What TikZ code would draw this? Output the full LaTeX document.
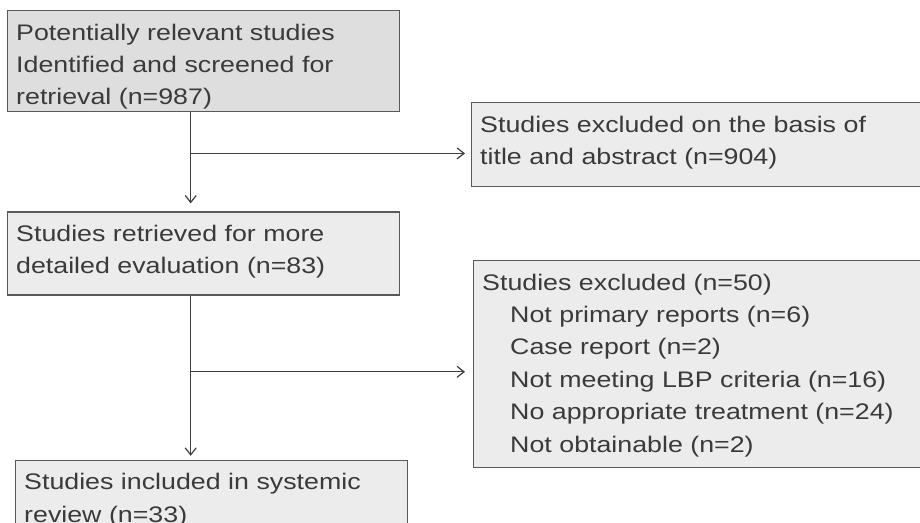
\documentclass[tikz,border=0pt]{standalone}
\usepackage{fontspec}
\setmainfont{Liberation Sans}[FakeStretch=1.19]
\usepackage{tikz}
\usetikzlibrary{arrows.meta}
\usetikzlibrary{positioning}
\definecolor{boxline}{HTML}{595959}
\definecolor{boxfill}{HTML}{ECECEC}
\definecolor{boxdark}{HTML}{DEDEDE}
\definecolor{flowline}{HTML}{404040}
\definecolor{boxtext}{HTML}{3A3A3A}
\tikzset{>={Straight Barb[length=7pt,width=11pt]}}
\tikzset{
    flowbox/.style={draw=boxline, line width=1.4pt, fill=boxfill, anchor=north west,
        align=left, inner xsep=8.5pt, inner ysep=4pt, text height=25.3pt,
        font=\fontsize{22.5}{32.4}\selectfont, text=boxtext},
    flow/.style={->, draw=flowline, line width=1.2pt}
}

\begin{document}
\begin{tikzpicture}[x=1pt, y=-1pt]
        \useasboundingbox (0,0) rectangle (920,522);
        \clip (0,0) rectangle (920,522);

        \node [flowbox, fill=boxdark, text width=375pt, text depth=67.7pt] at (7,10) (Identified)
            {Potentially relevant studies\\Identified and screened for\\retrieval (n=987)};
        \node [flowbox, text width=443pt, text depth=50.7pt] at (471,102) (TitleExcluded)
            {Studies excluded on the basis of\\title and abstract (n=904)};

        \node [flowbox, below=99pt of Identified.south west, anchor=north west,
            text width=375pt, text depth=49.7pt] (Retrieved)
            {Studies retrieved for more\\detailed evaluation (n=83)};
        \node [flowbox, text width=443pt, text depth=173.7pt] at (473,260) (Excluded)
            {Studies excluded (n=50)\\
            \hspace*{28pt}Not primary reports (n=6)\\
            \hspace*{28pt}Case report (n=2)\\
            \hspace*{28pt}Not meeting LBP criteria (n=16)\\
            \hspace*{28pt}No appropriate treatment (n=24)\\
            \hspace*{28pt}Not obtainable (n=2)};

        \node [flowbox, below=164pt of Retrieved.south west, anchor=north west, xshift=8pt,
            text width=375pt, text depth=46.7pt] (Included)
            {Studies included in systemic\\review (n=33)};

        \coordinate (SplitTitle) at ([xshift=183.7pt, yshift=-41pt]Identified.south west);
        \coordinate (SplitFull) at ([xshift=183.7pt, yshift=-76pt]Retrieved.south west);

        \draw [flow] ([xshift=183.7pt]Identified.south west)--([xshift=183.7pt, yshift=8pt]Retrieved.north west);
        \draw [flow] (SplitTitle)--([xshift=-6pt]TitleExcluded.west |- SplitTitle);

        \draw [flow] ([xshift=183.7pt]Retrieved.south west)--([xshift=175.7pt, yshift=4pt]Included.north west);
        \draw [flow] (SplitFull)--([xshift=-8pt]Excluded.west |- SplitFull);
    \end{tikzpicture}
\end{document}
